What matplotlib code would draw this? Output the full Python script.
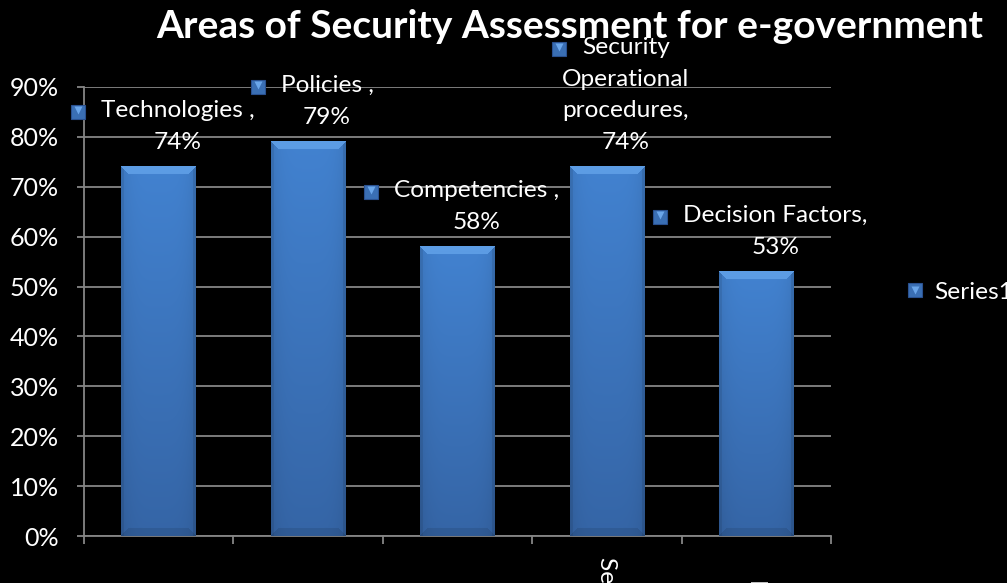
import numpy as np
import matplotlib
matplotlib.use("Agg")
import matplotlib.pyplot as plt
from matplotlib.lines import Line2D
from matplotlib.legend_handler import HandlerTuple
import matplotlib.transforms as mtransforms

# ---- chart data -------------------------------------------------------
categories = ["Technologies", "Policies", "Competencies",
              "Security Operational procedures", "Decision Factors"]
values = [74, 79, 58, 74, 53]          # percent
label_names = ["Technologies ,", "Policies ,", "Competencies ,",
               "Security\nOperational\nprocedures,", "Decision Factors,"]
axis_names = ["Technologies", "Policies", "Competencies",
              "Security Operational\nprocedures", "Decision Factors"]
y_ticks = [0, 10, 20, 30, 40, 50, 60, 70, 80, 90]
series_name = "Series1"
title = "Areas of Security Assessment for e-government"

# ---- style ------------------------------------------------------------
FONT = "Lato"
plt.rcParams["font.family"] = [FONT, "DejaVu Sans"]
W, H, DPI = 1007, 583, 100
GRID = "#858585"
LABEL_FS = 17.6
TICK_FS = 18

fig = plt.figure(figsize=(W / DPI, H / DPI), dpi=DPI, facecolor="black")
ax = fig.add_axes([84 / W, 47 / H, (831 - 84) / W, (536 - 87) / H])
ax.set_facecolor("black")

x = np.arange(len(categories))
bar_w = 0.5
ax.set_xlim(-0.5, len(categories) - 0.5)
ax.set_ylim(0, 90)

bars = ax.bar(x, values, width=bar_w, color="#3d76c0", zorder=2)


def bar_texture(pw, ph):
    """Blue fill with vertical fade, side shading and a soft bevel."""
    pw, ph = max(int(round(pw)), 4), max(int(round(ph)), 4)
    r = np.arange(ph)[:, None] * np.ones((1, pw))
    c = np.ones((ph, 1)) * np.arange(pw)[None, :]
    t = r / (ph - 1)
    top = np.array([0x42, 0x82, 0xd0]) / 255
    bot = np.array([0x35, 0x65, 0xa6]) / 255
    img = top[None, None, :] * (1 - t[..., None]) + bot[None, None, :] * t[..., None]
    s = np.abs(c / (pw - 1) - 0.5) * 2
    img *= (1 - 0.08 * s ** 4)[..., None]
    b = 8
    top_zone = (r < b) & (r <= c) & (r <= pw - 1 - c)
    bot_zone = (ph - 1 - r < b) & (ph - 1 - r <= c) & (ph - 1 - r <= pw - 1 - c)
    left_zone = (c < 3) & (c < r)
    right_zone = (pw - 1 - c < 3) & (pw - 1 - c < r)
    light = np.array([0x5c, 0x9c, 0xe4]) / 255
    img[top_zone] = light
    img[bot_zone] *= 0.90
    img[left_zone] *= 0.92
    img[right_zone] *= 0.90
    return np.clip(img, 0, 1)


# pixel size of one data unit
px_per_x = (831 - 84) / len(categories)
px_per_y = (536 - 87) / 90.0
for xi, v in zip(x, values):
    tex = bar_texture(bar_w * px_per_x, v * px_per_y)
    ax.imshow(tex, extent=(xi - bar_w / 2, xi + bar_w / 2, 0, v),
              aspect="auto", interpolation="bilinear", zorder=3)
ax.set_xlim(-0.5, len(categories) - 0.5)
ax.set_ylim(0, 90)

# ---- axes -------------------------------------------------------------
ax.set_yticks(y_ticks)
ax.set_yticklabels([f"{t}%" for t in y_ticks], color="white", fontsize=TICK_FS)
ax.yaxis.grid(True, color=GRID, lw=1.3)
ax.set_axisbelow(True)
ax.tick_params(axis="y", length=5, width=1.3, color=GRID, direction="out", pad=13)
ax.set_xticks(x)
ax.set_xticklabels([])
ax.tick_params(axis="x", which="major", length=0)
ax.set_xticks(np.arange(-0.5, len(categories)), minor=True)
ax.tick_params(axis="x", which="minor", length=6, width=1.3, color=GRID, direction="out")
for side in ("top", "right"):
    ax.spines[side].set_visible(False)
for side in ("left", "bottom"):
    ax.spines[side].set_color(GRID)
    ax.spines[side].set_linewidth(1.3)

# rotated category names below the axis (first text column centred on the bar)
for xi, name in zip(x, axis_names):
    n_lines = name.count("\n") + 1
    shift = -13 * (n_lines - 1)
    ax.annotate(name, xy=(xi, 0), xytext=(shift, -132), textcoords="offset pixels",
                rotation=-90, ha="center", va="center", multialignment="center",
                color="white", fontsize=LABEL_FS, annotation_clip=False)

# ---- title ------------------------------------------------------------
fig.text(570 / W, 1 - 26 / H, title, ha="center", va="center",
         fontsize=28, fontweight="bold", color="white")

# ---- data labels with legend keys -------------------------------------
KEY_BASE = dict(marker="s", markersize=10, markerfacecolor="#3a6fb4",
                markeredgecolor="#2a5190", markeredgewidth=0.8, linestyle="")
KEY_FLAP = dict(marker="v", markersize=6, markerfacecolor="#6aa6ea",
                markeredgecolor="none", linestyle="")

texts = []
for xi, v, nm in zip(x, values, label_names):
    t = ax.annotate(f"{nm}\n{v}%", xy=(xi, v), xytext=(19, 14),
                    textcoords="offset pixels", ha="center", va="bottom",
                    multialignment="center", color="white",
                    fontsize=LABEL_FS, linespacing=1.62, zorder=5)
    texts.append((t, nm.split("\n")[0]))

fig.canvas.draw()
renderer = fig.canvas.get_renderer()
for t, first in texts:
    bb = t.get_window_extent(renderer)
    probe = fig.text(0, 0, first, fontsize=LABEL_FS)
    pb = probe.get_window_extent(renderer)
    probe.remove()
    line_h = pb.height
    left = (bb.x0 + bb.x1) / 2 - pb.width / 2
    kx = left - 23
    ky = bb.y1 - line_h * 0.55
    for props, dy in ((KEY_BASE, 0), (KEY_FLAP, 2)):
        fig.add_artist(Line2D([kx], [ky + dy], transform=mtransforms.IdentityTransform(),
                              zorder=6, **props))

# ---- legend -----------------------------------------------------------
handle = (Line2D([], [], **KEY_BASE), Line2D([], [], **KEY_FLAP))
ax.legend([handle], [series_name], handler_map={tuple: HandlerTuple(ndivide=1, pad=0)},
          loc="center left", bbox_to_anchor=(883 / W, 1 - 292 / H),
          bbox_transform=fig.transFigure, frameon=False, labelcolor="white",
          fontsize=LABEL_FS, handlelength=0.8, handletextpad=0.4)

fig.savefig("out.png", dpi=DPI, facecolor="black")
